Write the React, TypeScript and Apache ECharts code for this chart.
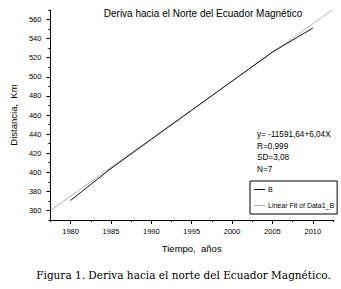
import React, { useEffect, useRef } from "react";
import * as echarts from "echarts";

const years = [1980, 1985, 1990, 1995, 2000, 2005, 2010];
const distance = [370.5, 404, 434.5, 465, 495.5, 526, 551];
const fitYears = [1977.5, 2012.4];
const fitDistance = [360, 570];
const xMajorTicks = [1980, 1985, 1990, 1995, 2000, 2005, 2010];
const yMajorTicks = [360, 380, 400, 420, 440, 460, 480, 500, 520, 540, 560];
const titleText = "Deriva hacia el Norte del Ecuador Magnético";
const fitText = ["y= -11591,64+6,04X", "R=0,999", "SD=3,08", "N=7"];
const captionText = "Figura 1. Deriva hacia el norte del Ecuador Magnético.";
const seriesNames = ["B", "Linear Fit of Data1_B"];

const SANS = "'Liberation Sans', Arial, sans-serif";

export default function App() {
  const ref = useRef<HTMLDivElement>(null);
  useEffect(() => {
    if (!ref.current) return;
    const chart = echarts.init(ref.current, null, { renderer: "svg" });
    const axisLine = { show: true, lineStyle: { color: "#000", width: 1 } };
    chart.setOption({
      animation: false,
      backgroundColor: "#fff",
      textStyle: { fontFamily: SANS },
      grid: { left: 50, right: 8, top: 10, bottom: 69 },
      xAxis: [
        {
          type: "value",
          min: 1977.5,
          max: 2012.5,
          interval: 2.5,
          axisLine,
          axisTick: { show: true, length: 2, lineStyle: { color: "#000" } },
          axisLabel: { show: false },
          splitLine: { show: false },
        },
        {
          type: "value",
          min: 1977.5,
          max: 2012.5,
          position: "bottom",
          axisLine: { show: false },
          axisTick: {
            show: true,
            length: 4,
            customValues: xMajorTicks,
            lineStyle: { color: "#000" },
          },
          axisLabel: {
            show: true,
            customValues: xMajorTicks,
            formatter: (v: number) => String(v),
            fontSize: 7.5,
            color: "#000",
            margin: 7,
            fontFamily: SANS,
          },
          splitLine: { show: false },
          name: "Tiempo,  años",
          nameLocation: "middle",
          nameGap: 23,
          nameTextStyle: { fontSize: 9.5, color: "#000", fontFamily: SANS },
        },
      ],
      yAxis: [
        {
          type: "value",
          min: 350,
          max: 570,
          interval: 10,
          axisLine,
          axisTick: { show: true, length: 2, lineStyle: { color: "#000" } },
          axisLabel: { show: false },
          splitLine: { show: false },
        },
        {
          type: "value",
          min: 350,
          max: 570,
          position: "left",
          axisLine: { show: false },
          axisTick: {
            show: true,
            length: 4,
            customValues: yMajorTicks,
            lineStyle: { color: "#000" },
          },
          axisLabel: {
            show: true,
            customValues: yMajorTicks,
            fontSize: 7.5,
            color: "#000",
            margin: 9,
            fontFamily: SANS,
          },
          splitLine: { show: false },
          name: "Distancia,  Km",
          nameLocation: "middle",
          nameGap: 30,
          nameTextStyle: { fontSize: 9.5, color: "#000", fontFamily: SANS },
        },
      ],
      legend: {
        show: true,
        orient: "vertical",
        left: 250,
        top: 181,
        data: seriesNames.map((n) => ({ name: n, icon: "rect" })),
        itemWidth: 11,
        itemHeight: 1,
        itemGap: 9,
        padding: [5, 3, 5, 4],
        borderColor: "#000",
        borderWidth: 1,
        borderRadius: 0,
        inactiveColor: "#000",
        textStyle: { fontSize: 7, color: "#000", fontFamily: SANS, padding: [0, 0, 0, -2] },
      },
      graphic: [
        {
          type: "text",
          x: 203,
          y: 13,
          style: {
            text: titleText,
            fontSize: 10,
            fontFamily: SANS,
            fill: "#000",
            textAlign: "center",
            textVerticalAlign: "middle",
          },
        },
        {
          type: "text",
          x: 257,
          y: 129,
          style: {
            text: fitText.join("\n"),
            fontSize: 8.2,
            lineHeight: 11.5,
            fontFamily: SANS,
            fill: "#000",
            textAlign: "left",
            textVerticalAlign: "top",
          },
        },
        {
          type: "text",
          x: 183.5,
          y: 275,
          style: {
            text: captionText,
            fontSize: 10.5,
            fontFamily: "'DejaVu Serif', serif",
            fill: "#000",
            textAlign: "center",
            textVerticalAlign: "middle",
          },
        },
      ],
      series: [
        {
          name: seriesNames[0],
          type: "line",
          xAxisIndex: 0,
          yAxisIndex: 0,
          data: years.map((y, i) => [y, distance[i]]),
          symbol: "none",
          lineStyle: { color: "#111", width: 1 },
          itemStyle: { color: "#111" },
        },
        {
          name: seriesNames[1],
          type: "line",
          xAxisIndex: 0,
          yAxisIndex: 0,
          data: fitYears.map((y, i) => [y, fitDistance[i]]),
          symbol: "none",
          lineStyle: { color: "#b4b4b4", width: 1 },
          itemStyle: { color: "#b4b4b4" },
          z: 1,
        },
      ],
    });
    return () => chart.dispose();
  }, []);
  return (
    <div
      ref={ref}
      style={{ position: "fixed", left: 0, top: 0, width: 341, height: 289, background: "#fff" }}
    />
  );
}
